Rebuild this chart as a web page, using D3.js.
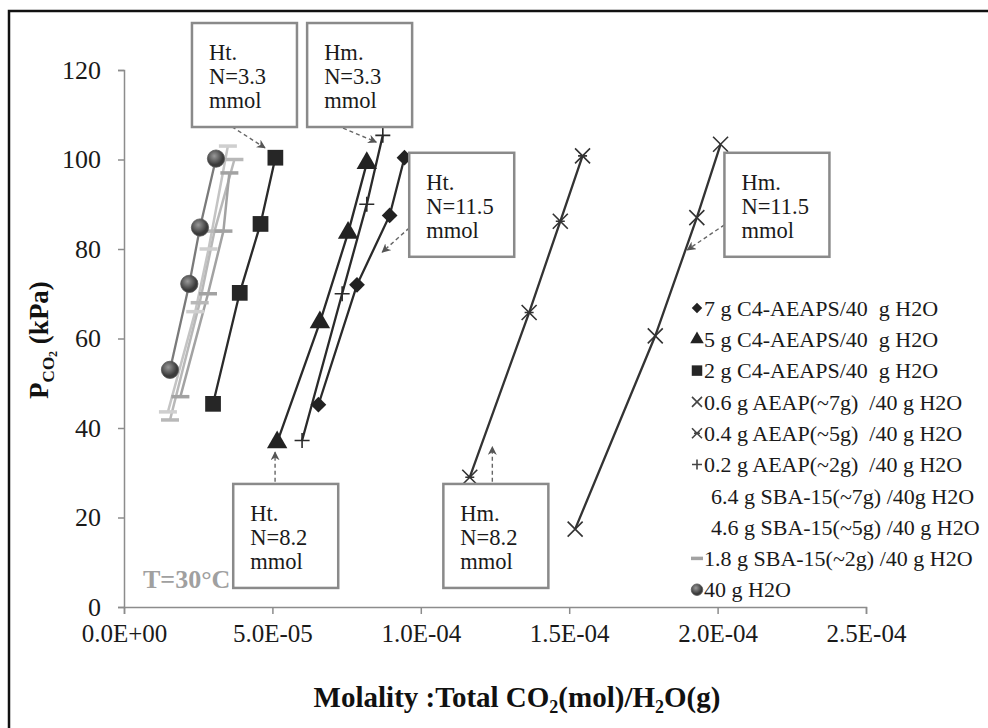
<!DOCTYPE html>
<html>
<head>
<meta charset="utf-8">
<script src="https://cdn.jsdelivr.net/npm/d3@7"></script>
<style>
  body { margin: 0; background: #fff; }
  svg text { font-family: "Liberation Serif", "Times New Roman", Tinos, "DejaVu Serif", serif; }
</style>
</head>
<body>
<div id="chart"></div>
<script>
// tick values
var xTicks = [0, 5e-5, 1e-4, 1.5e-4, 2e-4, 2.5e-4];
var yTicks = [0, 20, 40, 60, 80, 100, 120];

var legendLabels = [
  "7 g C4-AEAPS/40  g H2O",
  "5 g C4-AEAPS/40  g H2O",
  "2 g C4-AEAPS/40  g H2O",
  "0.6 g AEAP(~7g)  /40 g H2O",
  "0.4 g AEAP(~5g)  /40 g H2O",
  "0.2 g AEAP(~2g)  /40 g H2O",
  "6.4 g SBA-15(~7g) /40g H2O",
  "4.6 g SBA-15(~5g) /40 g H2O",
  "1.8 g SBA-15(~2g) /40 g H2O",
  "40 g H2O"
];

// [molality mol/g, P_CO2 kPa]
var c4Aeaps7 = [[6.55e-5, 45.2], [7.85e-5, 72.0], [8.95e-5, 87.5], [9.45e-5, 100.4]];
var c4Aeaps5 = [[5.16e-5, 36.8], [6.6e-5, 63.6], [7.55e-5, 83.6], [8.18e-5, 99.2]];
var c4Aeaps2 = [[3.0e-5, 45.4], [3.9e-5, 70.2], [4.6e-5, 85.6], [5.1e-5, 100.4]];
var aeap06 = [[1.52e-4, 17.4], [1.79e-4, 60.6], [1.93e-4, 87.0], [2.01e-4, 103.4]];
var aeap04 = [[1.165e-4, 29.0], [1.365e-4, 65.8], [1.47e-4, 86.2], [1.545e-4, 100.8]];
var aeap02 = [[6.0e-5, 37.2], [7.35e-5, 70.0], [8.18e-5, 90.0], [8.72e-5, 105.4]];
var sba64 = [[1.48e-5, 43.6], [2.4e-5, 66.0], [2.85e-5, 80.0], [3.5e-5, 103.0]];
var sba46 = [[1.55e-5, 41.8], [2.55e-5, 68.0], [3.05e-5, 84.0], [3.72e-5, 100.0]];
var sba18 = [[1.9e-5, 47.0], [2.83e-5, 70.0], [3.35e-5, 84.0], [3.55e-5, 97.0]];
var water = [[1.55e-5, 53.0], [2.2e-5, 72.2], [2.56e-5, 84.8], [3.1e-5, 100.2]];

// annotation boxes: [text lines, left (mol/g), top (kPa), arrow from, arrow to]
var notes = [
  [["Ht.", "N=3.3", "mmol"], 2.29e-5, 130.5, [3.64e-5, 107.3], [4.75e-5, 102.6]],
  [["Hm.", "N=3.3", "mmol"], 6.17e-5, 130.5, [7.38e-5, 107.0], [8.5e-5, 103.9]],
  [["Ht.", "N=11.5", "mmol"], 9.61e-5, 101.5, [9.61e-5, 84.7], [8.7e-5, 79.3]],
  [["Hm.", "N=11.5", "mmol"], 2.023e-4, 101.5, [2.023e-4, 85.4], [1.898e-4, 79.8]],
  [["Ht.", "N=8.2", "mmol"], 3.68e-5, 27.5, [5.09e-5, 28.0], [5.09e-5, 34.6]],
  [["Hm.", "N=8.2", "mmol"], 1.076e-4, 27.5, [1.241e-4, 28.0], [1.241e-4, 35.8]]
];

var width = 988, height = 728;
var serif = '"Liberation Serif", "Times New Roman", Tinos, "DejaVu Serif", serif';

var svg = d3.select("#chart").append("svg")
  .attr("width", width)
  .attr("height", height)
  .attr("font-family", serif);

var x = d3.scaleLinear().domain([0, 2.5e-4]).range([124, 866]);
var y = d3.scaleLinear().domain([0, 120]).range([607, 70]);

// frame (left + top only, like the scan)
svg.append("path")
  .attr("d", "M9,728 L9,11 L988,11")
  .attr("fill", "none")
  .attr("stroke", "#111")
  .attr("stroke-width", 2.5);

var defs = svg.append("defs");
defs.append("marker")
  .attr("id", "arrow")
  .attr("viewBox", "0 0 10 10")
  .attr("refX", 9).attr("refY", 5)
  .attr("markerWidth", 9).attr("markerHeight", 9)
  .attr("markerUnits", "userSpaceOnUse")
  .attr("orient", "auto")
  .append("path")
  .attr("d", "M0,0 L10,5 L0,10 L3,5 Z")
  .attr("fill", "#555");

var grad = defs.append("radialGradient").attr("id", "ball").attr("cx", "40%").attr("cy", "35%");
grad.append("stop").attr("offset", "0%").attr("stop-color", "#999");
grad.append("stop").attr("offset", "100%").attr("stop-color", "#3a3a3a");

function sci(v) {
  if (v === 0) return "0.0E+00";
  var e = Math.floor(Math.log10(v) + 1e-9);
  var m = v / Math.pow(10, e);
  var ae = Math.abs(e);
  return m.toFixed(1) + "E" + (e < 0 ? "-" : "+") + (ae < 10 ? "0" : "") + ae;
}

// axes
var yAxis = svg.append("g")
  .attr("transform", "translate(124,0)")
  .call(d3.axisLeft(y).tickValues(yTicks).tickSize(6).tickPadding(17));
var xAxis = svg.append("g")
  .attr("transform", "translate(0,607)")
  .call(d3.axisBottom(x).tickValues(xTicks).tickSize(7).tickSizeOuter(7).tickPadding(9).tickFormat(sci));

[xAxis, yAxis].forEach(function(a) {
  a.attr("font-family", serif);
  a.selectAll("path, line").attr("stroke", "#8c8c8c").attr("stroke-width", 1.5);
  a.selectAll("text").attr("fill", "#1a1a1a");
});
xAxis.selectAll("text").attr("dy", "0.75em").style("font-size", "25px");
yAxis.selectAll("text").attr("dy", "0.32em").style("font-size", "26px");

var series = [
  { values: sba64, shape: "none", color: "#c4c4c4", width: 2.5 },
  { values: sba46, shape: "dash", color: "#b8b8b8", width: 2.5 },
  { values: sba18, shape: "dash", color: "#a2a2a2", width: 2.5 },
  { values: water, shape: "ball", color: "#7a7a7a", width: 2.3 },
  { values: c4Aeaps2, shape: "square", color: "#2a2a2a", width: 2.3 },
  { values: c4Aeaps7, shape: "diamond", color: "#2a2a2a", width: 2.3 },
  { values: c4Aeaps5, shape: "triangle", color: "#2a2a2a", width: 2.3 },
  { values: aeap02, shape: "plus", color: "#2a2a2a", width: 2.3 },
  { values: aeap04, shape: "star", color: "#333", width: 2.3 },
  { values: aeap06, shape: "cross", color: "#333", width: 2.3 }
];

var line = d3.line()
  .x(function(d) { return x(d[0]); })
  .y(function(d) { return y(d[1]); });

function drawMarker(g, shape, color, s) {
  if (shape === "diamond") {
    g.append("path").attr("d", "M0," + (-s * 1.05) + "L" + (s * 1.05) + ",0L0," + (s * 1.05) + "L" + (-s * 1.05) + ",0Z").attr("fill", "#222");
  } else if (shape === "triangle") {
    g.append("path").attr("d", d3.symbol(d3.symbolTriangle, s * s * 3.2)()).attr("fill", "#222");
  } else if (shape === "square") {
    g.append("path").attr("d", d3.symbol(d3.symbolSquare, s * s * 4.4)()).attr("fill", "#262626");
  } else if (shape === "ball") {
    g.append("circle").attr("r", s * 1.15).attr("fill", "url(#ball)").attr("stroke", "#555").attr("stroke-width", 0.8);
  } else if (shape === "cross") {
    g.append("path").attr("d", "M" + -s + "," + -s + "L" + s + "," + s + "M" + -s + "," + s + "L" + s + "," + -s)
      .attr("stroke", color).attr("stroke-width", 1.6);
  } else if (shape === "star") {
    g.append("path").attr("d", "M" + -s + "," + -s + "L" + s + "," + s + "M" + -s + "," + s + "L" + s + "," + -s +
      "M" + (-s * 0.6) + ",0L" + (s * 0.6) + ",0")
      .attr("stroke", color).attr("stroke-width", 1.6);
  } else if (shape === "plus") {
    g.append("path").attr("d", "M" + -s + ",0L" + s + ",0M0," + -s + "L0," + s)
      .attr("stroke", color).attr("stroke-width", 1.6);
  } else if (shape === "dash") {
    g.append("path").attr("d", "M" + (-s * 1.2) + ",0L" + (s * 1.2) + ",0")
      .attr("stroke", color).attr("stroke-width", 3.5);
  }
}

series.forEach(function(sr) {
  svg.append("path")
    .datum(sr.values)
    .attr("d", line)
    .attr("fill", "none")
    .attr("stroke", sr.color)
    .attr("stroke-width", sr.width);
});

series.forEach(function(sr) {
  var pts = svg.selectAll(null)
    .data(sr.values)
    .enter().append("g")
    .attr("transform", function(d) { return "translate(" + x(d[0]) + "," + y(d[1]) + ")"; });
  pts.each(function() {
    if (sr.shape === "none") drawMarker(d3.select(this), "dash", "#cfcfcf", 7.5);
    else drawMarker(d3.select(this), sr.shape, sr.color, 7.5);
  });
});

// annotation boxes
notes.forEach(function(n) {
  var bx = x(n[1]), by = y(n[2]);
  svg.append("line")
    .attr("x1", x(n[3][0])).attr("y1", y(n[3][1]))
    .attr("x2", x(n[4][0])).attr("y2", y(n[4][1]))
    .attr("stroke", "#666")
    .attr("stroke-width", 1.4)
    .attr("stroke-dasharray", "4,3")
    .attr("marker-end", "url(#arrow)");
  svg.append("rect")
    .attr("x", bx).attr("y", by)
    .attr("width", 105).attr("height", 104)
    .attr("fill", "#fff")
    .attr("stroke", "#8a8a8a")
    .attr("stroke-width", 2.5);
  n[0].forEach(function(t, i) {
    svg.append("text")
      .attr("x", bx + 17)
      .attr("y", by + 37 + i * 24)
      .attr("fill", "#1a1a1a")
      .style("font-size", "22.5px")
      .text(t);
  });
});

// temperature note
svg.append("text")
  .attr("x", 143).attr("y", 588)
  .attr("fill", "#a0a0a0")
  .style("font-size", "26px")
  .style("font-weight", "bold")
  .text("T=30°C");

// legend
var legShapes = ["diamond", "triangle", "square", "cross", "star", "plus", "none", "none", "dash", "ball"];
var legColors = ["#222", "#222", "#222", "#444", "#444", "#444", "#fff", "#fff", "#a2a2a2", "#777"];
var leg = svg.append("g");
legendLabels.forEach(function(lab, i) {
  var ly = 308 + i * 31.3;
  var g = leg.append("g").attr("transform", "translate(697," + ly + ")");
  if (legShapes[i] !== "none") drawMarker(g, legShapes[i], legColors[i], 5);
  leg.append("text")
    .attr("x", legShapes[i] === "none" ? 711 : 704)
    .attr("y", ly)
    .attr("dy", "0.35em")
    .attr("fill", "#1a1a1a")
    .style("font-size", "22px")
    .style("white-space", "pre")
    .text(lab);
});

// axis titles
var xt = svg.append("text")
  .attr("x", 517).attr("y", 707)
  .attr("text-anchor", "middle")
  .attr("fill", "#111")
  .style("font-size", "29px")
  .style("font-weight", "bold");
xt.append("tspan").text("Molality :Total CO");
xt.append("tspan").attr("dy", 6).style("font-size", "18px").text("2");
xt.append("tspan").attr("dy", -6).text("(mol)/H");
xt.append("tspan").attr("dy", 6).style("font-size", "18px").text("2");
xt.append("tspan").attr("dy", -6).text("O(g)");

var yt = svg.append("text")
  .attr("transform", "translate(48,340) rotate(-90)")
  .attr("text-anchor", "middle")
  .attr("fill", "#111")
  .style("font-size", "27px")
  .style("font-weight", "bold");
yt.append("tspan").text("P");
yt.append("tspan").attr("dy", 6).style("font-size", "17px").text("CO");
yt.append("tspan").attr("dy", 3).style("font-size", "12px").text("2");
yt.append("tspan").attr("dy", -9).text(" (kPa)");
</script>
</body>
</html>
